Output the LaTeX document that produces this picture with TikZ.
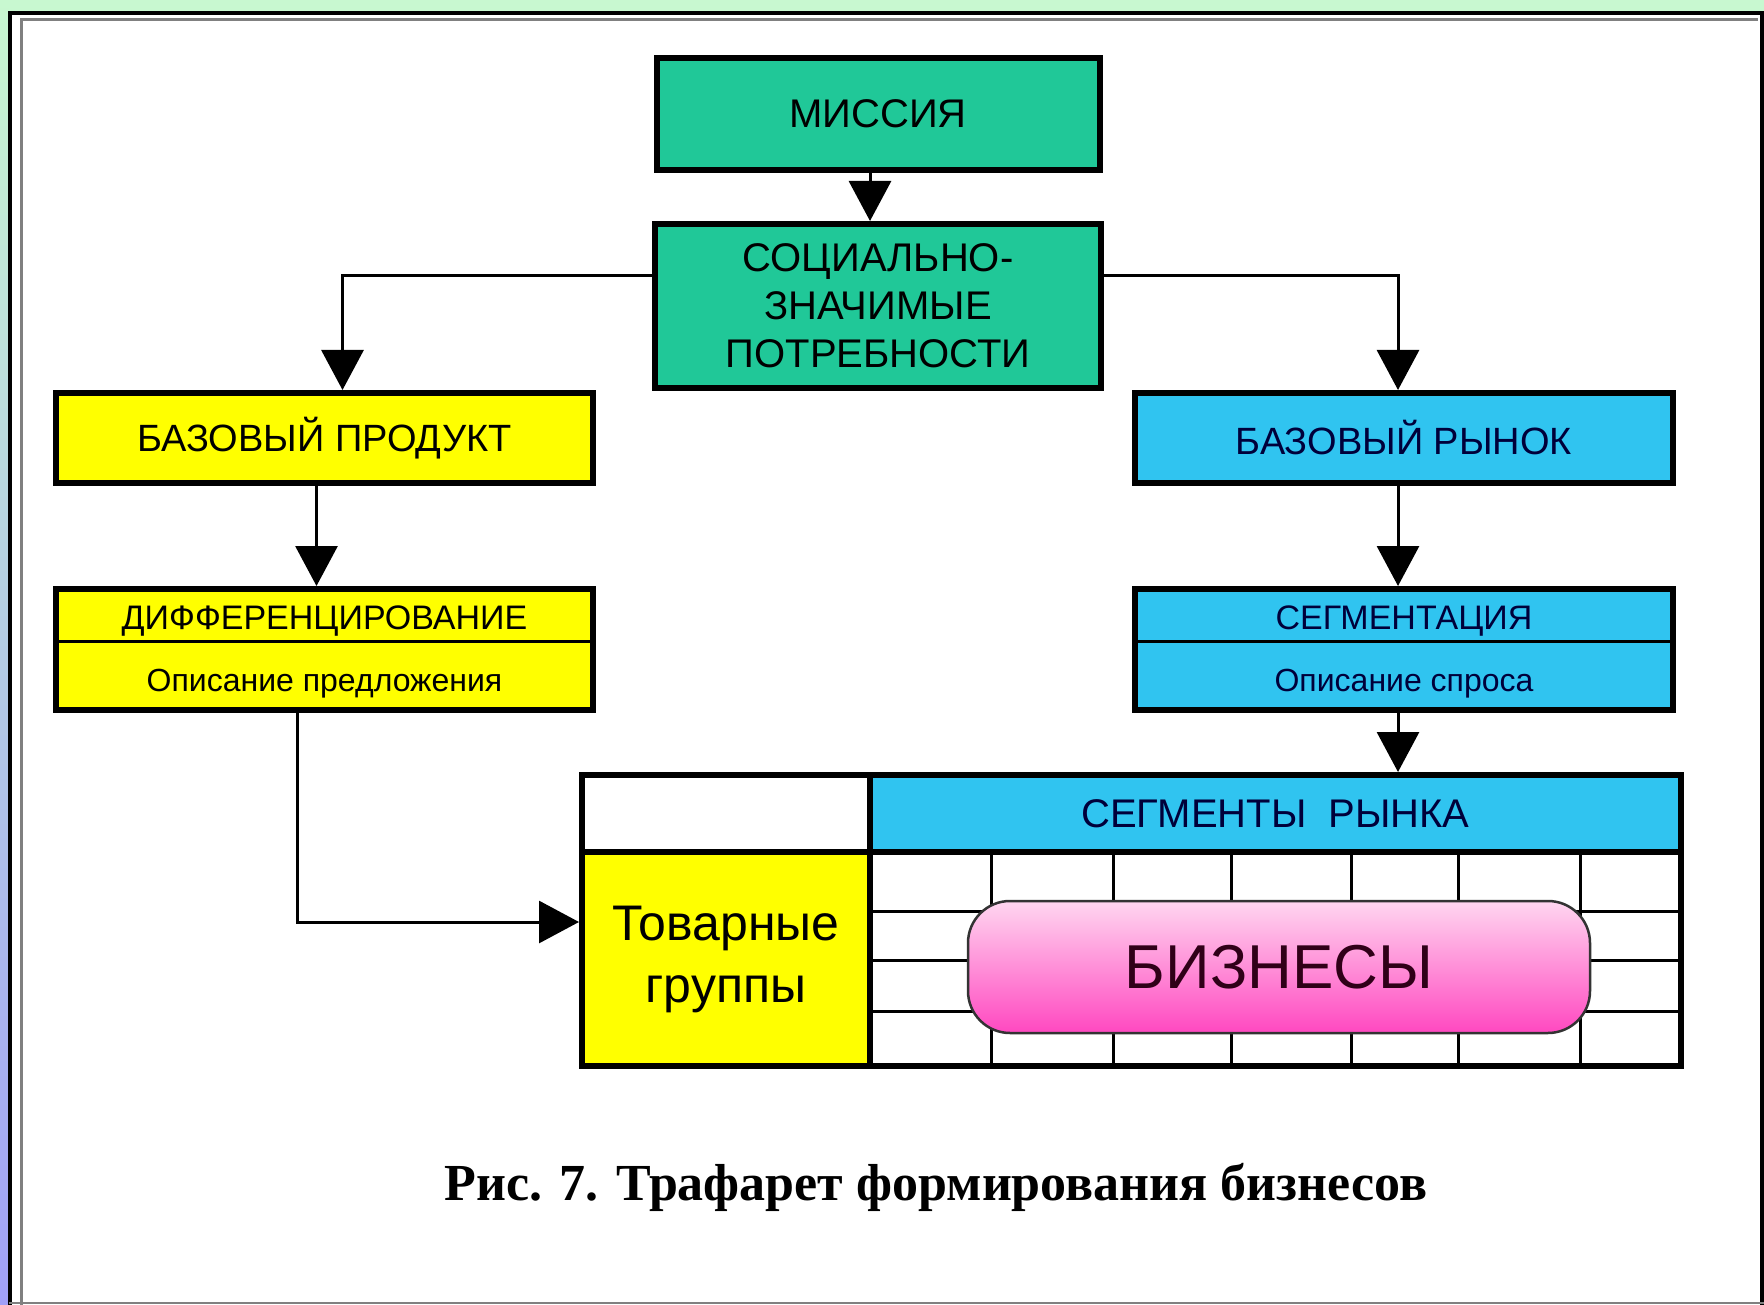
\documentclass[tikz,border=0pt]{standalone}
\usepackage{fontspec}
\setmainfont{Liberation Sans}
\newfontfamily\captionfont{Liberation Serif}
\usetikzlibrary{arrows.meta}
\usepackage{xcolor}

\definecolor{missionteal}{RGB}{32,200,152}
\definecolor{productyellow}{RGB}{255,255,0}
\definecolor{marketsky}{RGB}{48,196,240}
\definecolor{marketnavy}{RGB}{0,0,58}
\definecolor{pinktop}{RGB}{255,214,240}
\definecolor{pinkbottom}{RGB}{255,72,192}
\definecolor{stripgreen}{RGB}{200,248,208}
\definecolor{stripblue}{RGB}{160,160,248}

\tikzset{
  box/.style={draw=black, line width=6pt, rectangle, align=center, inner sep=0pt},
  conn/.style={line width=3pt, -{Triangle[width=42pt,length=40pt]}},
  gridline/.style={line width=3pt},
}

\begin{document}
\begin{tikzpicture}[x=1pt,y=-1pt]
        \useasboundingbox (0,0) rectangle (1764,1305);

        % Frame
        \shade[top color=stripgreen, bottom color=stripblue] (0,0) rectangle (9,1305);
        \fill[stripgreen] (9,0) rectangle (1764,11);
        \fill[white] (9,11) rectangle (1764,1305);
        \draw[line width=4pt] (10,1305) -- (10,13) -- (1762,13) -- (1762,1305);
        \draw[gray, line width=3pt] (21,1305) -- (21,20) -- (1758,20);
        \draw[gray, line width=2pt] (9,1303) -- (1764,1303);

        % Top boxes
        \node[box, fill=missionteal, minimum width=443, minimum height=112,
              font=\fontsize{40}{48}\selectfont] (mission) at (878,114) {МИССИЯ};
        \node[box, fill=missionteal, minimum width=446, minimum height=164,
              font=\fontsize{40}{48}\selectfont] (social) at (878,306) {СОЦИАЛЬНО-\\ЗНАЧИМЫЕ\\ПОТРЕБНОСТИ};

        % Left column
        \node[box, fill=productyellow, minimum width=537, minimum height=90,
              font=\fontsize{38}{46}\selectfont] (product) at (324.5,438) {БАЗОВЫЙ ПРОДУКТ};
        \node[box, fill=productyellow, minimum width=537, minimum height=121] (diff) at (324.5,649.5) {};
        \draw[line width=3pt] (diff.west |- 0,641) -- (diff.east |- 0,641);
        \node[font=\fontsize{34}{40}\selectfont] (diffhead) at (324.5,621) {ДИФФЕРЕНЦИРОВАНИЕ};
        \node[font=\fontsize{32}{40}\selectfont] (diffbody) at (324.5,684) {Описание предложения};

        % Right column
        \node[box, fill=marketsky, minimum width=538, minimum height=90, text=marketnavy,
              font=\fontsize{38}{46}\selectfont] (market) at (1404,438) {БАЗОВЫЙ РЫНОК};
        \node[box, fill=marketsky, minimum width=538, minimum height=121] (segm) at (1404,649.5) {};
        \draw[line width=3pt] (segm.west |- 0,641) -- (segm.east |- 0,641);
        \node[text=marketnavy, font=\fontsize{34}{40}\selectfont] (segmhead) at (1404,621) {СЕГМЕНТАЦИЯ};
        \node[text=marketnavy, font=\fontsize{32}{40}\selectfont] (segmbody) at (1404,684) {Описание спроса};

        % Table
        \node[box, fill=white, minimum width=288, minimum height=77] (corner) at (726,813.5) {};
        \node[box, fill=marketsky, minimum width=811, minimum height=77, text=marketnavy,
              font=\fontsize{40}{48}\selectfont] (segments) at (1275.5,813.5) {СЕГМЕНТЫ \ РЫНКА};
        \node[box, fill=productyellow, minimum width=288, minimum height=214,
              font=\fontsize{50}{62}\selectfont] (goods) at (726,959) {Товарные\\группы};
        \foreach \x in {991,1113,1231,1351,1458,1580}
            \draw[gridline] (\x,852) -- (\x,1066);
        \foreach \y in {911,960,1011}
            \draw[gridline] (870,\y) -- (1681,\y);
        \draw[line width=6pt] (870,852) rectangle (1681,1066);
        \node[draw=black!80, line width=2.5pt, rounded corners=42pt, top color=pinktop, bottom color=pinkbottom,
              minimum width=622, minimum height=132, text={rgb,255:red,48;green,0;blue,24},
              font=\fontsize{62}{70}\selectfont] (business) at (1279,967) {БИЗНЕСЫ};

        % Connectors
        \draw[conn] ([xshift=-8pt]mission.south) -- ([xshift=-8pt]social.north);
        \draw[conn] ([yshift=30pt]social.west) -| ([xshift=18pt]product.north);
        \draw[conn] ([yshift=30pt]social.east) -| ([xshift=-6pt]market.north);
        \draw[conn] ([xshift=-8pt]product.south) -- ([xshift=-8pt]diff.north);
        \draw[conn] ([xshift=-6pt]market.south) -- ([xshift=-6pt]segm.north);
        \draw[conn] ([xshift=-6pt]segm.south) -- ([xshift=-6pt]segm.south |- segments.north);
        \draw[conn] ([xshift=-27pt]diff.south) |- ([yshift=37pt]goods.west);

        % Caption
        \node[font=\captionfont\bfseries\fontsize{52}{60}\selectfont] (caption) at (936,1187)
            {Рис. 7. Трафарет формирования бизнесов};
    \end{tikzpicture}
\end{document}
